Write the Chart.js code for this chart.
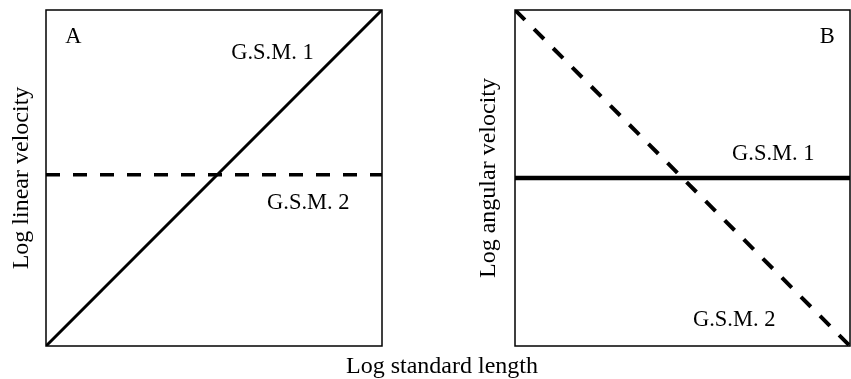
<!DOCTYPE html>
<html>
<head>
<meta charset="utf-8">
<script src="https://cdn.jsdelivr.net/npm/chart.js@4/dist/chart.umd.min.js"></script>
<style>
  html, body { margin: 0; padding: 0; background: #fff; }
  body { width: 851px; height: 379px; position: relative; overflow: hidden; }
  canvas { position: absolute; top: 0; }
  #cA { left: 0; }
  #cB { left: 440px; }
  #xtitle {
    position: absolute; left: 0; width: 884px; top: 353px;
    text-align: center; font: 24px/24px "Liberation Serif", "Times New Roman", serif; color: #000;
  }
</style>
</head>
<body>
<canvas id="cA" width="425" height="379"></canvas>
<canvas id="cB" width="411" height="379"></canvas>
<div id="xtitle">Log standard length</div>
<script>
// ---- data (unitless log-log schematic) ----
const xEnds = [0, 1];
const panelA_gsm1 = [0, 1];        // solid, rising
const panelA_gsm2 = [0.51, 0.51];  // dashed, flat
const panelB_gsm1 = [0.5, 0.5];    // solid, flat
const panelB_gsm2 = [1, 0];        // dashed, falling
const yTitleA = 'Log linear velocity';
const yTitleB = 'Log angular velocity';
const xTitle = 'Log standard length';

// label texts with anchor positions (in data units)
const labelsA = [
  { text: 'A', x: 0.057, y: 0.902 },
  { text: 'G.S.M. 1', x: 0.551, y: 0.854 },
  { text: 'G.S.M. 2', x: 0.658, y: 0.408 }
];
const labelsB = [
  { text: 'B', x: 0.910, y: 0.902 },
  { text: 'G.S.M. 1', x: 0.648, y: 0.554 },
  { text: 'G.S.M. 2', x: 0.531, y: 0.060 }
];

const SERIF = '"Liberation Serif", "Times New Roman", serif';

const pts = (ys) => xEnds.map((x, i) => ({ x, y: ys[i] }));

const boxAndLabels = {
  id: 'boxAndLabels',
  afterDatasetsDraw(chart, args, opts) {
    const { ctx, chartArea: a, scales } = chart;
    ctx.save();
    ctx.strokeStyle = '#000';
    ctx.lineWidth = 1.5;
    ctx.strokeRect(a.left, a.top, a.right - a.left, a.bottom - a.top);
    ctx.fillStyle = '#000';
    ctx.font = '22.5px ' + SERIF;
    ctx.textAlign = 'left';
    ctx.textBaseline = 'alphabetic';
    (opts.labels || []).forEach(l => {
      ctx.fillText(l.text, scales.x.getPixelForValue(l.x), scales.y.getPixelForValue(l.y));
    });
    ctx.restore();
  }
};

function makeChart(id, datasets, yTitle, labels, pad, titlePad) {
  return new Chart(document.getElementById(id), {
    type: 'line',
    data: { datasets },
    options: {
      responsive: false,
      animation: false,
      events: [],
      layout: { padding: pad },
      elements: { point: { radius: 0 }, line: { tension: 0 } },
      plugins: {
        legend: { display: false },
        tooltip: { enabled: false },
        boxAndLabels: { labels }
      },
      scales: {
        x: { type: 'linear', min: 0, max: 1, display: false },
        y: {
          type: 'linear', min: 0, max: 1,
          grid: { display: false, drawTicks: false, tickLength: 0 },
          border: { display: false },
          ticks: { display: false },
          title: {
            display: true, text: yTitle, color: '#000',
            font: { family: SERIF, size: 24, lineHeight: 1 },
            padding: titlePad
          }
        }
      }
    },
    plugins: [boxAndLabels]
  });
}

makeChart('cA', [
  { data: pts(panelA_gsm1), borderColor: '#000', borderWidth: 3 },
  { data: pts(panelA_gsm2), borderColor: '#000', borderWidth: 3.5, borderDash: [14, 13] }
], yTitleA, labelsA, { left: 0, top: 10, right: 43, bottom: 33 }, { top: 10, bottom: 12 });

makeChart('cB', [
  { data: pts(panelB_gsm1), borderColor: '#000', borderWidth: 4.5 },
  { data: pts(panelB_gsm2), borderColor: '#000', borderWidth: 4, borderDash: [14, 13] }
], yTitleB, labelsB, { left: 0, top: 10, right: 1, bottom: 33 }, { top: 37, bottom: 14 });
</script>
</body>
</html>
